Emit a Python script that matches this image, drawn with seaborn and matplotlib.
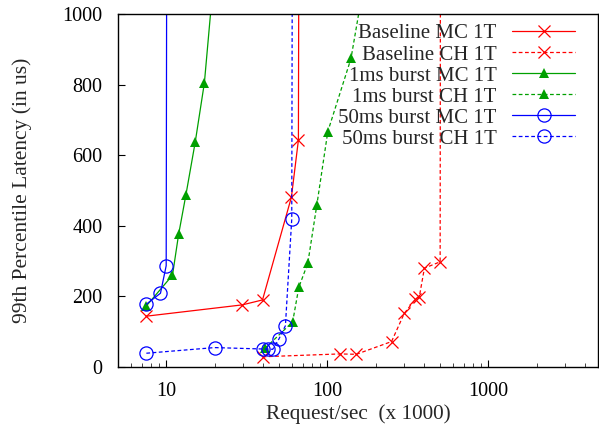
import matplotlib
matplotlib.use("Agg")
import matplotlib.pyplot as plt
import seaborn as sns
import numpy as np

# ---- data (x in thousands of requests/sec, y = 99th percentile latency in us) ----
base_mc_x = [7.5, 29.6, 39.5, 59.7, 66.0, 67.0]
base_mc_y = [144, 176, 190, 481, 643, 2000]

base_ch_x = [39.6, 119, 151, 250, 300, 352, 372, 400, 501, 505]
base_ch_y = [29, 37, 36, 72, 152, 192, 199, 280, 298, 2000]

b1_mc_x = [7.5, 10.9, 11.9, 13.2, 15.1, 17.2, 21.0]
b1_mc_y = [173, 260, 376, 487, 638, 805, 1250]

b1_ch_x = [41.0, 60.8, 66.4, 75.5, 85.9, 100.5, 140, 194]
b1_ch_y = [53, 128, 226, 294, 459, 667, 874, 1250]

b50_mc_x = [7.5, 9.18, 9.96, 10.1]
b50_mc_y = [178, 209, 287, 2000]

b50_ch_x = [7.5, 19.9, 39.6, 42.5, 45.7, 49.9, 54.8, 60.0, 61.0]
b50_ch_y = [39, 55, 51, 51, 50, 79, 117, 419, 2000]

labels = ["Baseline MC 1T", "Baseline CH 1T", "1ms burst MC 1T",
          "1ms burst CH 1T", "50ms burst MC 1T", "50ms burst CH 1T"]

sns.set_theme(style="white")
plt.rcParams['font.family'] = ['Liberation Serif', 'DejaVu Serif']

fig = plt.figure(figsize=(5.99, 4.33), dpi=100)
ax = fig.add_axes([118/599, 1-367/433, (598-118)/599, (367-14)/433])

RED, GREEN, BLUE = "#ff0000", "#00a000", "#0000ff"
dash = (0, (3, 2))
series = [
    (base_mc_x, base_mc_y, labels[0], RED, "-", "x", dict(markersize=9, markeredgewidth=0.9)),
    (base_ch_x, base_ch_y, labels[1], RED, dash, "x", dict(markersize=9, markeredgewidth=0.9)),
    (b1_mc_x, b1_mc_y, labels[2], GREEN, "-", "^", dict(markersize=7.5, markeredgewidth=0)),
    (b1_ch_x, b1_ch_y, labels[3], GREEN, dash, "^", dict(markersize=7.5, markeredgewidth=0)),
    (b50_mc_x, b50_mc_y, labels[4], BLUE, "-", "o", dict(markersize=9.5, markeredgewidth=0.9, markerfacecolor="none")),
    (b50_ch_x, b50_ch_y, labels[5], BLUE, dash, "o", dict(markersize=9.5, markeredgewidth=0.9, markerfacecolor="none")),
]
for xs, ys, lab, col, ls, mk, mkw in series:
    sns.lineplot(x=xs, y=ys, ax=ax, label=lab, color=col, marker=mk,
                 markeredgecolor=col, linewidth=0.9, sort=False, estimator=None, **mkw)
    ax.lines[-1].set_linestyle(ls)

ax.set_xscale("log")
ax.set_xlim(5, 4790)
ax.set_ylim(0, 1000)
ax.set_yticks([0, 200, 400, 600, 800, 1000])
ax.set_xticks([10, 100, 1000])
ax.set_xticklabels(["10", "100", "1000"])

for s in ax.spines.values():
    s.set_color("black")
    s.set_linewidth(1.0)
ax.tick_params(axis="both", which="major", direction="in", length=5, width=0.8,
               labelsize=14.5, colors="black", left=True, bottom=True)
ax.tick_params(axis="x", which="major", pad=10.5)
ax.tick_params(axis="y", which="major", pad=11)
ax.tick_params(axis="x", which="minor", direction="in", length=3, width=0.6, bottom=True)
ax.set_xlabel("Request/sec  (x 1000)", fontsize=15.3, labelpad=3)
ax.set_ylabel("99th Percentile Latency (in us)", fontsize=15.5, labelpad=22)

leg = ax.legend(loc="upper right", bbox_to_anchor=(0.952, 0.972), frameon=False,
                markerfirst=False, fontsize=15, handlelength=3.0, handletextpad=0.77,
                labelspacing=0.07, borderpad=0, borderaxespad=0)

fig.savefig("out.png", dpi=100)
